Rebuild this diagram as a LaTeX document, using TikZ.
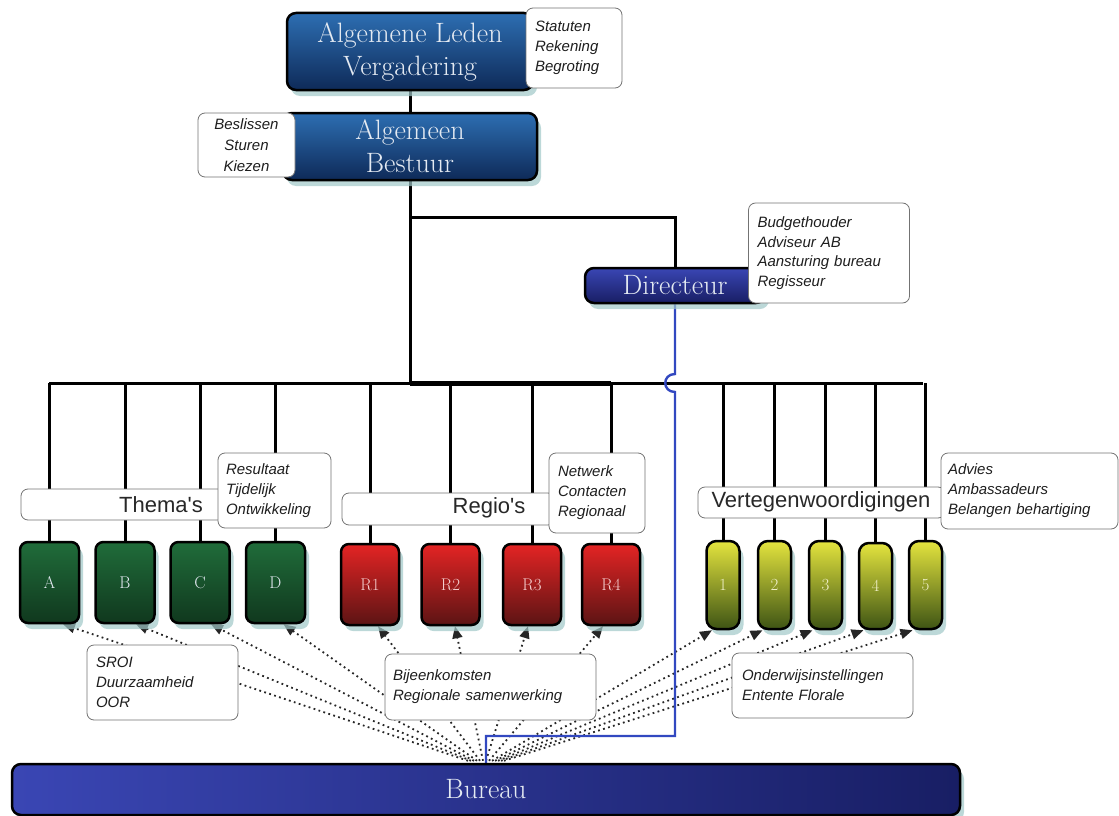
\documentclass[tikz,border=0pt]{standalone}
\usepackage{fontspec}
\newfontfamily\lsans{Liberation Sans}
\usetikzlibrary{arrows.meta,shadows,calc}
\definecolor{shadowc}{RGB}{160,200,200}
\definecolor{alvtop}{RGB}{45,110,178}
\definecolor{alvbot}{RGB}{14,42,88}
\definecolor{dirtop}{RGB}{58,70,180}
\definecolor{dirbot}{RGB}{24,30,100}
\definecolor{grntop}{RGB}{32,108,58}
\definecolor{grnbot}{RGB}{16,56,30}
\definecolor{redtop}{RGB}{228,36,36}
\definecolor{redbot}{RGB}{92,20,20}
\definecolor{yeltop}{RGB}{228,228,62}
\definecolor{yelbot}{RGB}{62,84,20}
\definecolor{lighttext}{RGB}{228,234,242}
\definecolor{bluel}{RGB}{50,72,192}
\definecolor{notetext}{RGB}{30,30,30}
\pgfdeclarelayer{bg}
\pgfsetlayers{bg,main}
\begin{document}
\begin{tikzpicture}[x=1pt,y=-1pt,
  conn/.style={line width=3pt, draw=black},
  shadowed/.style={drop shadow={shadow xshift=4pt, shadow yshift=-6pt, fill=shadowc, opacity=0.7}},
  bigbox/.style={shadowed, draw=black, line width=2.5pt, rounded corners=9pt, inner sep=0pt,
    text=lighttext, font=\fontsize{28}{33}\selectfont, align=center},
  blueshade/.style={top color=alvtop, bottom color=alvbot},
  dirshade/.style={top color=dirtop, bottom color=dirbot},
  burshade/.style={left color=dirtop, right color=dirbot},
  child/.style={shadowed, draw=black, line width=2.5pt, rounded corners=8pt, inner sep=0pt,
    font=\fontsize{17}{17}\selectfont},
  grn/.style={child, top color=grntop, bottom color=grnbot, text=lighttext, minimum width=59pt, minimum height=81pt},
  rd/.style={child, top color=redtop, bottom color=redbot, text={rgb,255:red,245;green,205;blue,205}, minimum width=58pt, minimum height=81pt},
  yl/.style={child, rounded corners=10pt, top color=yeltop, bottom color=yelbot, text={rgb,255:red,240;green,240;blue,200}, minimum width=33pt, minimum height=88pt},
  note/.style={draw=black!55, line width=0.8pt, rounded corners=7pt, fill=white, text=notetext,
    font=\lsans\itshape\fontsize{15}{20}\selectfont, align=left, inner ysep=0pt},
  grp/.style={draw=black!55, line width=0.8pt, rounded corners=7pt, fill=white, inner sep=0pt, minimum height=31pt},
  grptext/.style={font=\lsans\fontsize{22}{22}\selectfont, text={rgb,255:red,40;green,40;blue,40}, inner sep=0pt},
  dots/.style={line width=1.8pt, dash pattern=on 1.8pt off 3.4pt, draw=black!85, -{Triangle[length=12pt,width=10pt]}},
  blueline/.style={line width=2.4pt, draw=bluel}
]
\useasboundingbox (0,0) rectangle (1119,816);

% top
\node[bigbox, blueshade, minimum width=246pt, minimum height=77pt] (alv) at (410,51.5) {Algemene Leden\\Vergadering};
\node[note, text width=78pt, minimum width=96pt, minimum height=80pt, inner xsep=9pt] (nalv) at (574,48) {Statuten\\Rekening\\Begroting};
\node[bigbox, blueshade, minimum width=254pt, minimum height=67pt] (ab) at (410,146.5) {Algemeen\\Bestuur};
\node[note, align=center, text width=85pt, minimum width=97pt, minimum height=64pt, inner xsep=6pt, font=\lsans\itshape\fontsize{15}{21}\selectfont] (nab) at (246.5,145) {Beslissen\\Sturen\\Kiezen};
\node[bigbox, dirshade, minimum width=180pt, minimum height=35pt] (dir) at (675,285.5) {Directeur};
\node[note, text width=143pt, minimum width=161pt, minimum height=100pt, inner xsep=9pt, font=\lsans\itshape\fontsize{15}{19.5}\selectfont] (ndir) at (829,253) {Budgethouder\\Adviseur AB\\Aansturing bureau\\Regisseur};

% groups
\node[grp, minimum width=207pt] (thmbox) at (124.5,504.5) {};
\node[grptext] (thm) at (161,505) {Thema's};
\node[note, text width=97pt, minimum width=113pt, minimum height=75pt, inner xsep=8pt] (nthm) at (274.5,490.5) {Resultaat\\Tijdelijk\\Ontwikkeling};
\node[grp, minimum width=213pt, minimum height=32pt] (regbox) at (448.5,509) {};
\node[grptext] (reg) at (489,508) {Regio's};
\node[note, text width=78pt, minimum width=96pt, minimum height=80pt, inner xsep=9pt] (nreg) at (597,493) {Netwerk\\Contacten\\Regionaal};
\node[grp, minimum width=247pt] (vertbox) at (821.5,502.5) {};
\node[grptext] (vert) at (821,502) {Vertegenwoordigingen};
\node[note, text width=163pt, minimum width=177pt, minimum height=76pt, inner xsep=7pt] (nvert) at (1029.5,491) {Advies\\Ambassadeurs\\Belangen behartiging};

% children
\node[grn] (A) at (49.5,582.5) {A};
\node[grn] (B) at (125,582.5) {B};
\node[grn] (C) at (200,582.5) {C};
\node[grn] (D) at (275.5,582.5) {D};
\node[rd] (R1) at (370,584.5) {R1};
\node[rd] (R2) at (450.5,584.5) {R2};
\node[rd] (R3) at (532,584.5) {R3};
\node[rd] (R4) at (611,584.5) {R4};
\node[yl] (Y1) at (723,585) {1};
\node[yl] (Y2) at (774.5,585) {2};
\node[yl] (Y3) at (825.5,585) {3};
\node[yl, minimum height=86pt] (Y4) at (875.5,586) {4};
\node[yl] (Y5) at (925.5,585) {5};

% bottom notes
\node[note, text width=133pt, minimum width=151pt, minimum height=75pt, inner xsep=9pt] (nsroi) at (162.5,682.5) {SROI\\Duurzaamheid\\OOR};
\node[note, text width=195pt, minimum width=211pt, minimum height=66pt, inner xsep=8pt] (nbij) at (490.5,687) {Bijeenkomsten\\Regionale samenwerking};
\node[note, text width=161pt, minimum width=181pt, minimum height=65pt, inner xsep=10pt] (nond) at (822.5,685.5) {Onderwijsinstellingen\\Entente Florale};

% bureau
\node[bigbox, burshade, minimum width=948pt, minimum height=51pt] (bur) at (486,789.5) {Bureau};

\coordinate (busL) at (49,383);
\coordinate (busR) at (923,383);
\coordinate (br) at (410,217);
\coordinate (hopA) at (675,374);
\coordinate (hopB) at (675,392);
\coordinate (bl) at (675,736);

\begin{pgfonlayer}{bg}
  \draw[conn] (alv.south) -- (ab.north);
  \draw[conn] (ab.south) -- (ab.south |- busL);
  \draw[conn] (br) -| (dir.north);
  \draw[conn] (busL) -- (busR);
  \draw[line width=5pt] (ab.south |- busL) -- (R4.north |- busL);
  \foreach \n in {A,B,C,D,R1,R2,R3,R4,Y1,Y2,Y3,Y4,Y5}
    \draw[conn] (\n.north |- busL) -- (\n.north);
  \foreach \t/\dx/\o in {A/13.5/-18, B/11/-15, C/11/-12, D/8/-9, R1/8/-6, R2/4.5/-3, R3/-4/0, R4/-8/3, Y1/-11/6, Y2/-12/9, Y3/-13/12, Y4/-12/15, Y5/-13/18}
    \draw[dots] ($(bur.north)+(\o,-2)$) -- ($(\t.south)+(\dx,0)$);
  \draw[blueline] (dir.south) -- (hopA) .. controls (662,374) and (662,392) .. (hopB) -- (bl) -| (bur.north);
\end{pgfonlayer}
\end{tikzpicture}
\end{document}
